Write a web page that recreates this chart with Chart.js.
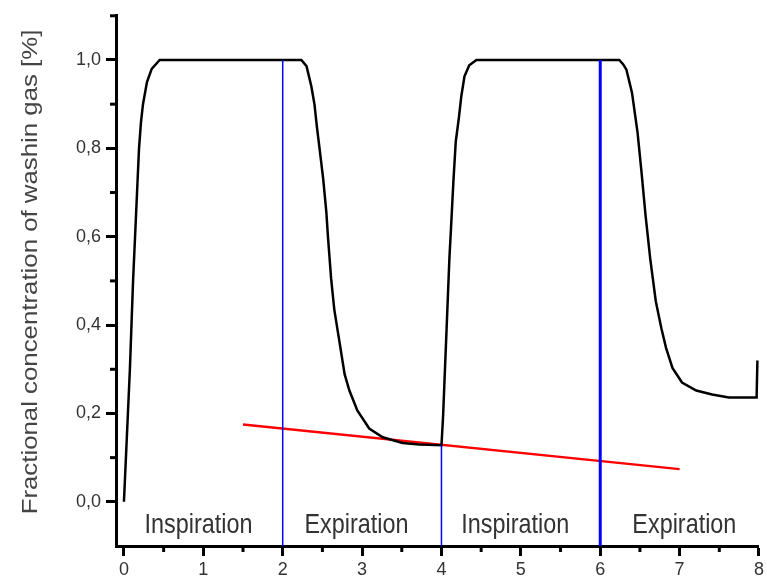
<!DOCTYPE html>
<html>
<head>
<meta charset="utf-8">
<script src="https://cdn.jsdelivr.net/npm/chart.js@4.4.0/dist/chart.umd.min.js"></script>
<style>
  body { margin: 0; background: #fff; }
  #wrap { width: 767px; height: 582px; }
</style>
</head>
<body>
<div id="wrap"><canvas id="chart"></canvas></div>
<script>
// washin curve (time, fraction)
const curveX = [0, 0.025, 0.05, 0.075, 0.095, 0.115, 0.14, 0.165, 0.19, 0.215, 0.24, 0.29, 0.35, 0.45,
  2.235, 2.30, 2.36, 2.40, 2.43, 2.47, 2.51, 2.55, 2.57, 2.61, 2.65, 2.70, 2.74, 2.78, 2.84, 2.94, 3.09, 3.26, 3.51, 3.72, 4.0,
  4.02, 4.04, 4.06, 4.08, 4.10, 4.12, 4.15, 4.18, 4.22, 4.25, 4.29, 4.35, 4.44,
  6.24, 6.29, 6.33, 6.40, 6.47, 6.52, 6.57, 6.63, 6.70, 6.77, 6.83, 6.91, 7.03, 7.21, 7.41, 7.62, 7.97, 7.98];
const curveY = [0, 0.1, 0.2, 0.3, 0.4, 0.5, 0.6, 0.7, 0.8, 0.86, 0.9, 0.95, 0.98, 1.0,
  1.0, 0.986, 0.941, 0.90, 0.85, 0.791, 0.731, 0.655, 0.60, 0.505, 0.435, 0.379, 0.334, 0.289, 0.252, 0.207, 0.166, 0.146, 0.133, 0.130, 0.128,
  0.192, 0.282, 0.371, 0.461, 0.551, 0.619, 0.724, 0.815, 0.87, 0.918, 0.963, 0.988, 1.0,
  1.0, 0.99, 0.978, 0.926, 0.836, 0.746, 0.65, 0.55, 0.454, 0.393, 0.348, 0.303, 0.27, 0.252, 0.243, 0.236, 0.236, 0.32];

// red trend line
const trendX = [1.5, 7.0];
const trendY = [0.175, 0.074];

// blue phase markers: x position, top value, bottom value
const markerX = [2, 4, 6];
const markerTop = [1.0, 0.128, 1.0];
const markerBottom = [-0.1, -0.1, -0.1];
const markerWidth = [1.5, 1.5, 3];

const phaseLabels = ["Inspiration", "Expiration", "Inspiration", "Expiration"];
const phaseCenters = [0.94, 2.93, 4.93, 7.06];
const phaseY = -0.07;

const xTicks = [0, 1, 2, 3, 4, 5, 6, 7, 8];
const xMinorTicks = [0.5, 1.5, 2.5, 3.5, 4.5, 5.5, 6.5, 7.5];
const yTicks = [0, 0.2, 0.4, 0.6, 0.8, 1.0];
const yMinorTicks = [0.1, 0.3, 0.5, 0.7, 0.9, 1.1];

const yTitle = "Fractional concentration of washin gas [%]";

const sans = "'Liberation Sans', Arial, sans-serif";

function toPoints(xs, ys) {
  return xs.map((x, i) => ({ x: x, y: ys[i] }));
}

const datasets = [];
markerX.forEach((x, i) => {
  datasets.push({
    data: [{ x: x, y: markerTop[i] }, { x: x, y: markerBottom[i] }],
    borderColor: "#0000ff",
    borderWidth: markerWidth[i],
    showLine: true,
    pointRadius: 0,
  });
});
datasets.push({
  data: toPoints(curveX, curveY),
  borderColor: "#000",
  borderWidth: 2.5,
  showLine: true,
  pointRadius: 0,
  tension: 0,
});
datasets.push({
  data: toPoints(trendX, trendY),
  borderColor: "#ff0000",
  borderWidth: 2.5,
  showLine: true,
  pointRadius: 0,
});

// minor ticks, phase labels and the axis title (the original is stretched vertically)
const extras = {
  id: "extras",
  afterDraw(chart) {
    const ctx = chart.ctx;
    const xs = chart.scales.x;
    const ys = chart.scales.y;
    const area = chart.chartArea;
    ctx.save();
    ctx.strokeStyle = "#000";
    ctx.lineWidth = 3;
    xMinorTicks.forEach((v) => {
      const px = xs.getPixelForValue(v);
      ctx.beginPath();
      ctx.moveTo(px, area.bottom);
      ctx.lineTo(px, area.bottom + 6);
      ctx.stroke();
    });
    yMinorTicks.forEach((v) => {
      const py = ys.getPixelForValue(v);
      ctx.beginPath();
      ctx.moveTo(area.left, py);
      ctx.lineTo(area.left - 6, py);
      ctx.stroke();
    });

    ctx.fillStyle = "#333";
    ctx.font = "23.4px " + sans;
    ctx.textAlign = "center";
    ctx.textBaseline = "alphabetic";
    phaseLabels.forEach((t, i) => {
      ctx.save();
      ctx.translate(xs.getPixelForValue(phaseCenters[i]), ys.getPixelForValue(phaseY));
      ctx.scale(1, 1.2);
      ctx.fillText(t, 0, 0);
      ctx.restore();
    });

    ctx.translate(37, 272);
    ctx.rotate(-Math.PI / 2);
    ctx.scale(1.2, 1);
    ctx.font = "21.5px " + sans;
    ctx.fillStyle = "#444";
    ctx.fillText(yTitle, 0, 0);
    ctx.restore();
  },
};

new Chart(document.getElementById("chart"), {
  type: "scatter",
  data: { datasets: datasets },
  plugins: [extras],
  options: {
    responsive: true,
    maintainAspectRatio: false,
    animation: false,
    layout: { padding: { top: 13, right: 7, left: 0, bottom: 0 } },
    plugins: { legend: { display: false }, tooltip: { enabled: false } },
    scales: {
      x: {
        type: "linear",
        min: -0.1,
        max: 8,
        afterBuildTicks: (scale) => { scale.ticks = xTicks.map((v) => ({ value: v })); },
        afterFit: (scale) => { scale.height = 36; },
        border: { display: true, color: "#000", width: 3 },
        grid: { drawOnChartArea: false, drawTicks: true, tickLength: 10, tickWidth: 3, tickColor: "#000" },
        ticks: {
          color: "#333",
          padding: 3,
          maxRotation: 0,
          font: { family: sans, size: 18 },
          callback: (v) => String(v),
        },
      },
      y: {
        type: "linear",
        min: -0.1,
        max: 1.1,
        afterBuildTicks: (scale) => { scale.ticks = yTicks.map((v) => ({ value: v })); },
        afterFit: (scale) => { scale.width = 116; },
        border: { display: true, color: "#000", width: 3 },
        grid: { drawOnChartArea: false, drawTicks: true, tickLength: 10, tickWidth: 3, tickColor: "#000" },
        ticks: {
          color: "#333",
          padding: 5,
          font: { family: sans, size: 18 },
          callback: (v) => v.toFixed(1).replace(".", ","),
        },
      },
    },
  },
});
</script>
</body>
</html>
